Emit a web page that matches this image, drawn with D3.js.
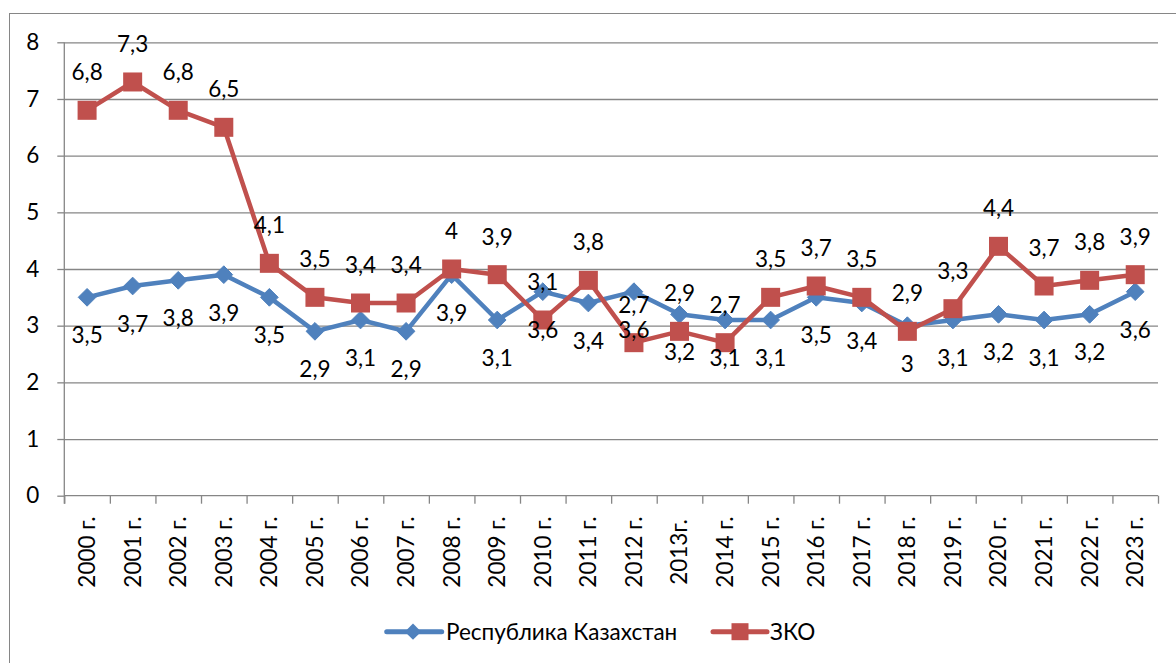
<!DOCTYPE html>
<html>
<head>
<meta charset="utf-8">
<script src="https://cdn.jsdelivr.net/npm/d3@7"></script>
<style>
  html, body { margin: 0; padding: 0; background: #fff; }
  svg { display: block; font-family: Lato, "Noto Sans", sans-serif; }
</style>
</head>
<body>
<svg id="chart" width="1176" height="663"></svg>
<script>
const categories = ["2000 г.","2001 г.","2002 г.","2003 г.","2004 г.","2005 г.","2006 г.","2007 г.","2008 г.","2009 г.","2010 г.","2011 г.","2012 г.","2013г.","2014 г.","2015 г.","2016 г.","2017 г.","2018 г.","2019 г.","2020 г.","2021 г.","2022 г.","2023 г."];
const seriesNames = ["Республика Казахстан", "ЗКО"];
const kazakhstan = [3.5,3.7,3.8,3.9,3.5,2.9,3.1,2.9,3.9,3.1,3.6,3.4,3.6,3.2,3.1,3.1,3.5,3.4,3.0,3.1,3.2,3.1,3.2,3.6];
const zko = [6.8,7.3,6.8,6.5,4.1,3.5,3.4,3.4,4.0,3.9,3.1,3.8,2.7,2.9,2.7,3.5,3.7,3.5,2.9,3.3,4.4,3.7,3.8,3.9];
const yTicks = [0,1,2,3,4,5,6,7,8];

(function () {
const svg = d3.select("#chart");
const pL = 64.3, pR = 1158, pT = 42.3, pB = 495.7;
const axisColor = "#868686";
const fontSize = 22.5;
const fmt = v => String(v).replace(".", ",");

// outer border
svg.append("rect").attr("x", 9.5).attr("y", 13.5).attr("width", 1200).attr("height", 700)
  .attr("fill", "none").attr("stroke", axisColor).attr("stroke-width", 1);

const x = d3.scaleBand().domain(categories).range([pL, pR]).padding(0);
const xi = d3.scaleLinear().domain([0, categories.length]).range([pL, pR]);
const y = d3.scaleLinear().domain([0, 8]).range([pB, pT]);
const cx = c => x(c) + x.bandwidth() / 2;

// gridlines
svg.append("g").attr("transform", `translate(${pL},0)`)
  .call(d3.axisLeft(y).tickValues(yTicks.filter(t => t > 0)).tickSize(-(pR - pL)).tickFormat(""))
  .call(g => g.select(".domain").remove())
  .call(g => g.selectAll("line").attr("stroke", axisColor).attr("stroke-width", 1.3));

// y axis
svg.append("g").attr("transform", `translate(${pL},0)`)
  .call(d3.axisLeft(y).tickValues(yTicks).tickSize(7).tickPadding(18).tickFormat(d => fmt(d)))
  .call(g => g.select(".domain").attr("stroke", axisColor).attr("stroke-width", 1.3).attr("d", `M0,${pT}V${pB + 8}`))
  .call(g => g.selectAll("line").attr("stroke", axisColor).attr("stroke-width", 1.3))
  .call(g => g.selectAll("text").attr("font-size", fontSize).attr("font-family", "Lato").attr("fill", "#000"));

// x axis tick marks between categories
svg.append("g").attr("transform", `translate(0,${pB})`)
  .call(d3.axisBottom(xi).tickValues(d3.range(0, categories.length + 1)).tickSize(8).tickFormat(""))
  .call(g => g.select(".domain").attr("stroke", axisColor).attr("stroke-width", 1.3).attr("d", `M${pL},0H${pR}`))
  .call(g => g.selectAll("line").attr("stroke", axisColor).attr("stroke-width", 1.3));

// x axis labels (rotated)
svg.append("g").selectAll("text").data(categories).join("text")
  .attr("transform", d => `translate(${cx(d)},552) rotate(-90)`)
  .attr("text-anchor", "middle").attr("dy", "0.35em")
  .attr("font-size", fontSize).attr("fill", "#000")
  .text(d => d);

const colors = ["#4F81BD", "#C0504D"];
const line = d3.line().x((d, i) => cx(categories[i])).y(d => y(d));

// blue series
svg.append("path").datum(kazakhstan).attr("d", line)
  .attr("fill", "none").attr("stroke", colors[0]).attr("stroke-width", 4.5).attr("stroke-linejoin", "round");
svg.append("g").selectAll("path").data(kazakhstan).join("path")
  .attr("d", d3.symbol(d3.symbolDiamond2, 200))
  .attr("transform", (d, i) => `translate(${cx(categories[i])},${y(d)})`)
  .attr("fill", colors[0]).attr("stroke", colors[0]).attr("stroke-width", 1);

// red series
svg.append("path").datum(zko).attr("d", line)
  .attr("fill", "none").attr("stroke", colors[1]).attr("stroke-width", 4.5).attr("stroke-linejoin", "round");
svg.append("g").selectAll("rect").data(zko).join("rect")
  .attr("x", (d, i) => cx(categories[i]) - 9.5).attr("y", d => y(d) - 9.5)
  .attr("width", 19).attr("height", 19)
  .attr("fill", colors[1]);

// data labels
svg.append("g").selectAll("text").data(kazakhstan).join("text")
  .attr("x", (d, i) => cx(categories[i])).attr("y", d => y(d) + 46)
  .attr("text-anchor", "middle").attr("font-size", fontSize).attr("fill", "#000")
  .text(d => fmt(d));
svg.append("g").selectAll("text").data(zko).join("text")
  .attr("x", (d, i) => cx(categories[i])).attr("y", d => y(d) - 30)
  .attr("text-anchor", "middle").attr("font-size", fontSize).attr("fill", "#000")
  .text(d => fmt(d));

// legend
const ly = 631.7;
const lg = svg.append("g");
lg.append("line").attr("x1", 386.7).attr("x2", 441.7).attr("y1", ly).attr("y2", ly)
  .attr("stroke", colors[0]).attr("stroke-width", 5).attr("stroke-linecap", "round");
lg.append("path").attr("d", d3.symbol(d3.symbolDiamond2, 170))
  .attr("transform", `translate(413,${ly})`).attr("fill", colors[0]);
lg.append("text").attr("x", 446).attr("y", ly).attr("dy", "0.35em")
  .attr("font-size", fontSize).attr("fill", "#000").text(seriesNames[0]);
lg.append("line").attr("x1", 713).attr("x2", 767).attr("y1", ly).attr("y2", ly)
  .attr("stroke", colors[1]).attr("stroke-width", 5).attr("stroke-linecap", "round");
lg.append("rect").attr("x", 740 - 8.5).attr("y", ly - 8.5).attr("width", 17).attr("height", 17)
  .attr("fill", colors[1]);
lg.append("text").attr("x", 770).attr("y", ly).attr("dy", "0.35em")
  .attr("font-size", fontSize).attr("fill", "#000").text(seriesNames[1]);
})();
</script>
</body>
</html>
